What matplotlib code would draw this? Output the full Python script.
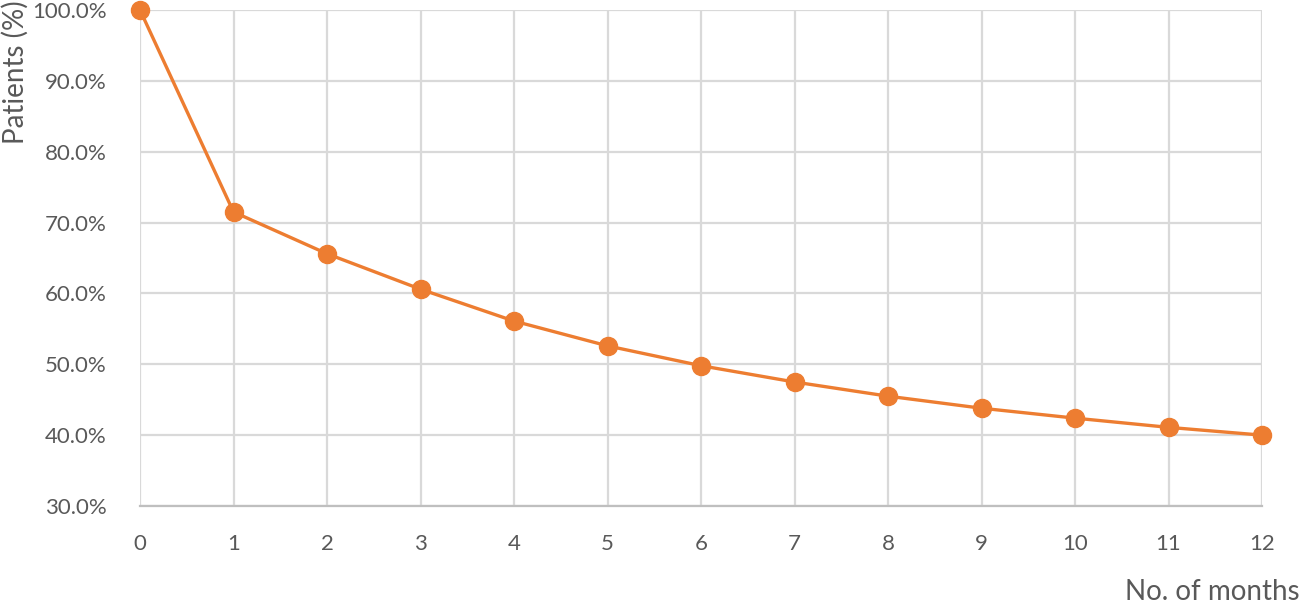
import matplotlib.pyplot as plt
from matplotlib.ticker import PercentFormatter

plt.rcParams['font.family'] = ['Lato', 'DejaVu Sans']

months = list(range(13))
patients = [100.0, 71.5, 65.6, 60.6, 56.1, 52.6, 49.8, 47.5, 45.5, 43.8, 42.4, 41.1, 40.0]
y_ticks = [30, 40, 50, 60, 70, 80, 90, 100]

fig = plt.figure(figsize=(13, 6.03), dpi=100)
ax = fig.add_axes([140 / 1300, 97 / 603, 1122 / 1300, 496 / 603])

ax.plot(months, patients, color='#ED7D31', lw=2.4, marker='o', ms=13,
        clip_on=False, zorder=3)

ax.set_xlim(0, 12)
ax.set_ylim(30, 100)
ax.set_xticks(months)
ax.set_yticks(y_ticks)
ax.yaxis.set_major_formatter(PercentFormatter(decimals=1))
ax.grid(True, color='#D9D9D9', lw=1.6)
ax.set_axisbelow(True)
for s in ['top', 'right', 'left']:
    ax.spines[s].set_visible(False)
ax.spines['bottom'].set_color('#BFBFBF')
ax.spines['bottom'].set_linewidth(1.6)
ax.tick_params(length=0, labelsize=16, labelcolor='#595959')
ax.tick_params(axis='x', pad=20)
ax.tick_params(axis='y', pad=24)

fig.text(15 / 1300, 1.0, 'Patients (%)', rotation=90, ha='center', va='top',
         fontsize=20, color='#595959')
fig.text(1.0, 11 / 603, 'No. of months', ha='right', va='center',
         fontsize=20, color='#595959')

fig.savefig('out.png', dpi=100)
